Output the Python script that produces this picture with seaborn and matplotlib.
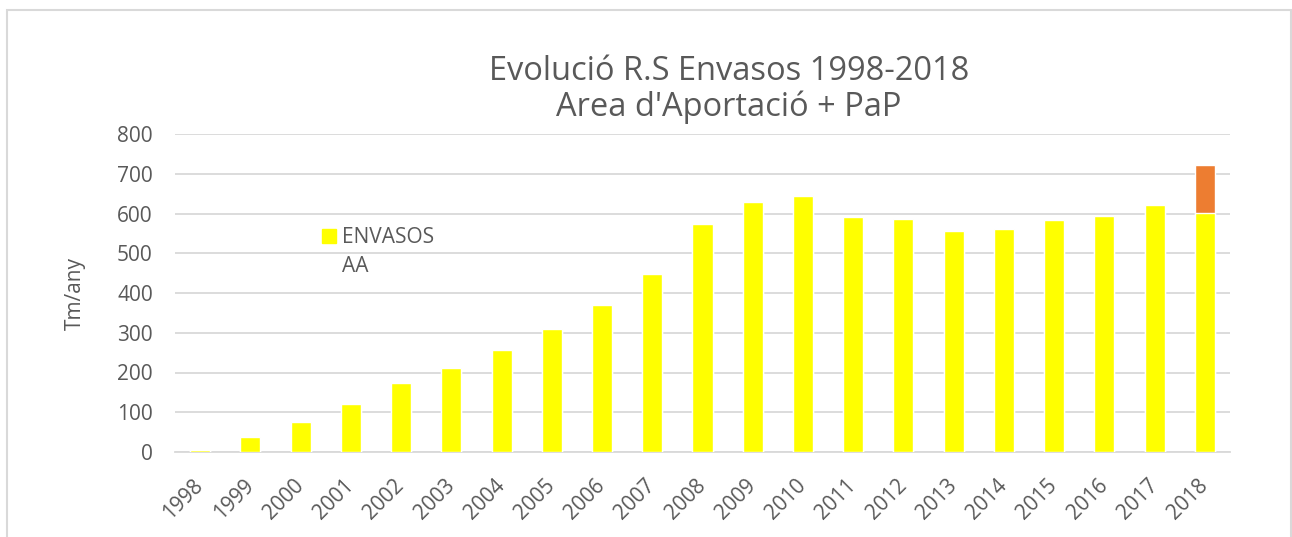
import pandas as pd
import matplotlib
matplotlib.use("Agg")
import matplotlib.pyplot as plt
import seaborn as sns
from matplotlib.patches import Rectangle, Patch

# -----------------------------
# Data
# -----------------------------
years = ['1998', '1999', '2000', '2001', '2002', '2003', '2004', '2005', '2006', '2007',
         '2008', '2009', '2010', '2011', '2012', '2013', '2014', '2015', '2016', '2017', '2018']
envasos_aa = [6, 38, 76, 121, 174, 211, 257, 309, 369, 448,
              573, 628, 644, 591, 586, 555, 561, 583, 593, 621, 601]
envasos_pap = [0, 0, 0, 0, 0, 0, 0, 0, 0, 0,
               0, 0, 0, 0, 0, 0, 0, 0, 0, 0, 121]

title_lines = ["Evolució R.S Envasos 1998-2018", "Area d'Aportació + PaP"]
y_label = 'Tm/any'
legend_words = ['ENVASOS', 'AA']

df = pd.DataFrame({'Any': years, 'AA': envasos_aa, 'PaP': envasos_pap})
df['Total'] = df['AA'] + df['PaP']

# -----------------------------
# Style
# -----------------------------
sns.set_style('white')
plt.rcParams['font.family'] = ['Open Sans', 'DejaVu Sans']
text_col = '#595959'
grid_col = '#d9d9d9'
W, H = 1292, 537

fig = plt.figure(figsize=(W / 100, H / 100), dpi=100)
ax = fig.add_axes([175 / W, 1 - 452 / H, 1055 / W, 318 / H])

# stacked bars: total in orange first, AA in yellow over it
sns.barplot(data=df, x='Any', y='Total', color='#ED7D31', width=0.4,
            saturation=1, ax=ax, zorder=3)
sns.barplot(data=df, x='Any', y='AA', color='#FFFF00', width=0.4,
            saturation=1, ax=ax, zorder=3)

ax.set_xlim(-0.5, len(years) - 0.5)
ax.set_ylim(0, 800)
ax.set_yticks(range(0, 801, 100))
ax.yaxis.grid(True, color=grid_col, linewidth=1.3, zorder=0)
ax.set_axisbelow(True)
for s in ['top', 'right', 'left']:
    ax.spines[s].set_visible(False)
ax.spines['bottom'].set_color(grid_col)
ax.spines['bottom'].set_linewidth(1.3)
ax.tick_params(axis='both', length=0, labelsize=15, labelcolor=text_col)
ax.tick_params(axis='y', pad=16)
ax.tick_params(axis='x', pad=22)
plt.setp(ax.get_xticklabels(), rotation=45, ha='right', va='center',
         rotation_mode='anchor')

ax.set_xlabel('')
ax.set_ylabel('')
fig.text(75 / W, 1 - 293 / H, y_label, rotation=90, ha='center', va='center',
         fontsize=15, color=text_col)

# title
fig.text(729 / W, 1 - 72 / H, title_lines[0], ha='center', va='center',
         fontsize=23.5, color=text_col)
fig.text(729 / W, 1 - 107 / H, title_lines[1], ha='center', va='center',
         fontsize=23.5, color=text_col)

# legend (label wraps onto a second line in the reference)
leg = fig.legend(handles=[Patch(color='#FFFF00', label=legend_words[0])],
                 loc='upper left', bbox_to_anchor=(322 / W, 1 - 227 / H),
                 frameon=False, fontsize=15, handlelength=0.67, handleheight=0.67,
                 handletextpad=0.29, borderpad=0, borderaxespad=0)
for t in leg.get_texts():
    t.set_color(text_col)
fig.text(342 / W, 1 - 272 / H, legend_words[1], ha='left', va='baseline',
         fontsize=15, color=text_col)

# outer chart border
fig.patches.append(Rectangle((7 / W, -0.1), (1291 - 7) / W, 1.1 - 9.5 / H,
                             transform=fig.transFigure, fill=False,
                             edgecolor=grid_col, linewidth=1.5))

fig.savefig('out.png', dpi=100)
